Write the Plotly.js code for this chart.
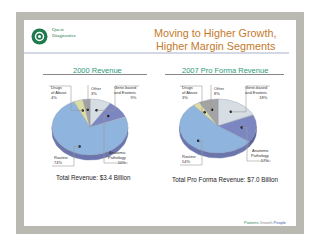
<!DOCTYPE html>
<html><head><meta charset="utf-8">
<script src="https://cdn.plot.ly/plotly-3.0.1.min.js"></script>
<style>html,body{margin:0;padding:0;background:#fff;}#chart{width:320px;height:247px;}</style>
</head><body><div id="chart"></div>
<script>
// ---- data ----
const segments = ['Gene-based and Esoteric', 'Anatomic Pathology', 'Routine', 'Drugs of Abuse', 'Other'];
const segmentLabels = ['Gene-based<br>and Esoteric', 'Anatomic<br>Pathology', 'Routine', 'Drugs<br>of Abuse', 'Other'];
const values2000 = [9, 10, 74, 4, 3];
const values2007 = [18, 17, 54, 3, 8];
const pieTitles = ['2000 Revenue', '2007 Pro Forma Revenue'];
const totals = ['Total Revenue: $3.4 Billion', 'Total Pro Forma Revenue: $7.0 Billion'];

// ---- styles ----
const topColors = ['#d6dee3', '#7c86c0', '#8fb5df', '#dcdca4', '#a3a3a3'];
const sideColors = ['#aab4bc', '#5b6399', '#6c76ad', '#b0b07c', '#7c7c7c'];
const FONT = 'Arial, "Liberation Sans", sans-serif';

const pies = [
  {vals: values2000, cx: 90, cy: 127, rx: 38, ry: 28, d: 5,
   labelPos: [[139, 92, 'right'], [128, 157, 'right'], [52, 160, 'left'], [49, 92, 'left'], [89, 91, 'left']]},
  {vals: values2007, cx: 218, cy: 126, rx: 38.5, ry: 27, d: 5,
   labelPos: [[270, 92, 'right'], [271, 155, 'right'], [180, 159, 'left'], [180, 92, 'left'], [212, 91, 'left']]}
];

const traces = [];
const annotations = [];
const shapes = [];

// frame
shapes.push({type: 'rect', xref: 'x', yref: 'y', x0: 16, x1: 304, y0: 12, y1: 234, fillcolor: '#bab9b1', line: {width: 0}, layer: 'below'});
shapes.push({type: 'rect', xref: 'x', yref: 'y', x0: 24, x1: 296, y0: 20, y1: 226, fillcolor: '#ffffff', line: {width: 0}, layer: 'below'});
// title rule
shapes.push({type: 'line', xref: 'x', yref: 'y', x0: 24, x1: 289, y0: 53, y1: 53, line: {color: '#a9b1cc', width: 1}});
// logo
shapes.push({type: 'circle', xref: 'x', yref: 'y', x0: 31.5, x1: 47.5, y0: 28.5, y1: 44.5, fillcolor: '#1f7b4d', line: {width: 0}});
shapes.push({type: 'circle', xref: 'x', yref: 'y', x0: 35.5, x1: 43.5, y0: 32.5, y1: 40.5, fillcolor: 'rgba(0,0,0,0)', line: {color: '#ffffff', width: 1.5}});
shapes.push({type: 'circle', xref: 'x', yref: 'y', x0: 38, x1: 41, y0: 35, y1: 38, fillcolor: '#ffffff', line: {width: 0}});

function pt(p, th, dy) {
  return [p.cx + p.rx * Math.sin(th), p.cy - p.ry * Math.cos(th) + (dy || 0)];
}

pies.forEach((p, pi) => {
  const total = p.vals.reduce((a, b) => a + b, 0);
  let acc = 0;
  const slices = p.vals.map(v => { const a = acc / total * 2 * Math.PI; acc += v; return [a, acc / total * 2 * Math.PI]; });
  // side band (front half)
  slices.forEach((s, i) => {
    const a = Math.max(s[0], Math.PI / 2), b = Math.min(s[1], 3 * Math.PI / 2);
    if (b <= a) return;
    const xs = [], ys = [];
    const n = 40;
    for (let k = 0; k <= n; k++) { const q = pt(p, a + (b - a) * k / n, 0); xs.push(q[0]); ys.push(q[1]); }
    for (let k = n; k >= 0; k--) { const q = pt(p, a + (b - a) * k / n, p.d); xs.push(q[0]); ys.push(q[1]); }
    traces.push({type: 'scatter', x: xs, y: ys, mode: 'lines', fill: 'toself', fillcolor: sideColors[i],
      line: {color: sideColors[i], width: 0.5}, hoverinfo: 'skip', showlegend: false});
  });
  // top wedges
  slices.forEach((s, i) => {
    const xs = [p.cx], ys = [p.cy];
    const n = Math.max(4, Math.ceil((s[1] - s[0]) * 40));
    for (let k = 0; k <= n; k++) { const q = pt(p, s[0] + (s[1] - s[0]) * k / n, 0); xs.push(q[0]); ys.push(q[1]); }
    xs.push(p.cx); ys.push(p.cy);
    traces.push({type: 'scatter', x: xs, y: ys, mode: 'lines', fill: 'toself', fillcolor: topColors[i],
      line: {color: '#8a96a8', width: 0.4}, name: segments[i], hoverinfo: 'name', showlegend: false});
  });
  // dots + leader lines + labels
  const dx = [], dyv = [];
  slices.forEach((s, i) => {
    const mid = (s[0] + s[1]) / 2;
    const r = (p.vals[i] > 40) ? 0.75 : 0.62;
    const q = [p.cx + p.rx * r * Math.sin(mid), p.cy - p.ry * r * Math.cos(mid)];
    dx.push(q[0]); dyv.push(q[1]);
    const lp = p.labelPos[i];
    const top = lp[1] < p.cy;
    const ex = lp[2] === 'right' ? lp[0] - 24 : lp[0] + 22;
    const ey = top ? lp[1] - 6 : lp[1] + 6;
    let path;
    if (i === 4) {
      path = `M ${lp[0] - 1},${lp[1] - 6} L ${lp[0] - 1},${q[1]} L ${q[0]},${q[1]}`;
    } else {
      path = `M ${lp[0]},${ey} L ${ex},${ey} L ${ex},${q[1]} L ${q[0]},${q[1]}`;
    }
    shapes.push({type: 'path', xref: 'x', yref: 'y', path: path, line: {color: '#9a9a9a', width: 0.6}});
    annotations.push({xref: 'x', yref: 'y', x: lp[0], y: lp[1], xanchor: lp[2], yanchor: 'middle', align: lp[2],
      text: segmentLabels[i] + '<br>' + p.vals[i] + '%', showarrow: false,
      font: {family: FONT, size: 4, color: '#333333'}});
  });
  traces.push({type: 'scatter', x: dx, y: dyv, mode: 'markers', marker: {size: 2.5, color: '#111111'}, hoverinfo: 'skip', showlegend: false});
  // headings
  annotations.push({xref: 'x', yref: 'y', x: pi === 0 ? 97 : 225, y: 70, text: pieTitles[pi], showarrow: false,
    xanchor: 'center', yanchor: 'middle', font: {family: FONT, size: 7.5, color: '#2b9a79'}});
  shapes.push({type: 'line', xref: 'x', yref: 'y', x0: pi === 0 ? 43 : 165, x1: pi === 0 ? 147 : 284, y0: 74.5, y1: 74.5,
    line: {color: '#555555', width: 0.7}});
  annotations.push({xref: 'x', yref: 'y', x: pi === 0 ? 93 : 225, y: pi === 0 ? 177.5 : 179, text: totals[pi], showarrow: false,
    xanchor: 'center', yanchor: 'middle', font: {family: FONT, size: 6.3, color: '#222222'}});
});

// title & logo text & footer
annotations.push({xref: 'x', yref: 'y', x: 278, y: 32.5, text: 'Moving to Higher Growth,', showarrow: false, xanchor: 'right', yanchor: 'middle',
  font: {family: FONT, size: 10.8, color: '#c47a2c'}});
annotations.push({xref: 'x', yref: 'y', x: 278, y: 46, text: 'Higher Margin Segments', showarrow: false, xanchor: 'right', yanchor: 'middle',
  font: {family: FONT, size: 10.8, color: '#c47a2c'}});
annotations.push({xref: 'x', yref: 'y', x: 49.5, y: 29.5, text: 'Quest', showarrow: false, xanchor: 'left', yanchor: 'middle',
  font: {family: '"Liberation Serif", serif', size: 5, color: '#1f7b4d'}});
annotations.push({xref: 'x', yref: 'y', x: 49.5, y: 35, text: 'Diagnostics', showarrow: false, xanchor: 'left', yanchor: 'middle',
  font: {family: '"Liberation Serif", serif', size: 5, color: '#1f7b4d'}});
annotations.push({xref: 'x', yref: 'y', x: 289, y: 222, showarrow: false, xanchor: 'right', yanchor: 'middle',
  text: '<span style="color:#2f8a66">Patients</span> <span style="color:#8a8a8a">Growth</span> <span style="color:#4b5aa8">People</span>',
  font: {family: FONT, size: 4}});

const layout = {
  width: 320, height: 247,
  margin: {l: 0, r: 0, t: 0, b: 0},
  paper_bgcolor: '#ffffff', plot_bgcolor: 'rgba(0,0,0,0)',
  xaxis: {range: [0, 320], visible: false, fixedrange: true},
  yaxis: {range: [247, 0], visible: false, fixedrange: true},
  shapes: shapes, annotations: annotations, showlegend: false
};
Plotly.newPlot('chart', traces, layout, {staticPlot: true, displayModeBar: false});
</script></body></html>
